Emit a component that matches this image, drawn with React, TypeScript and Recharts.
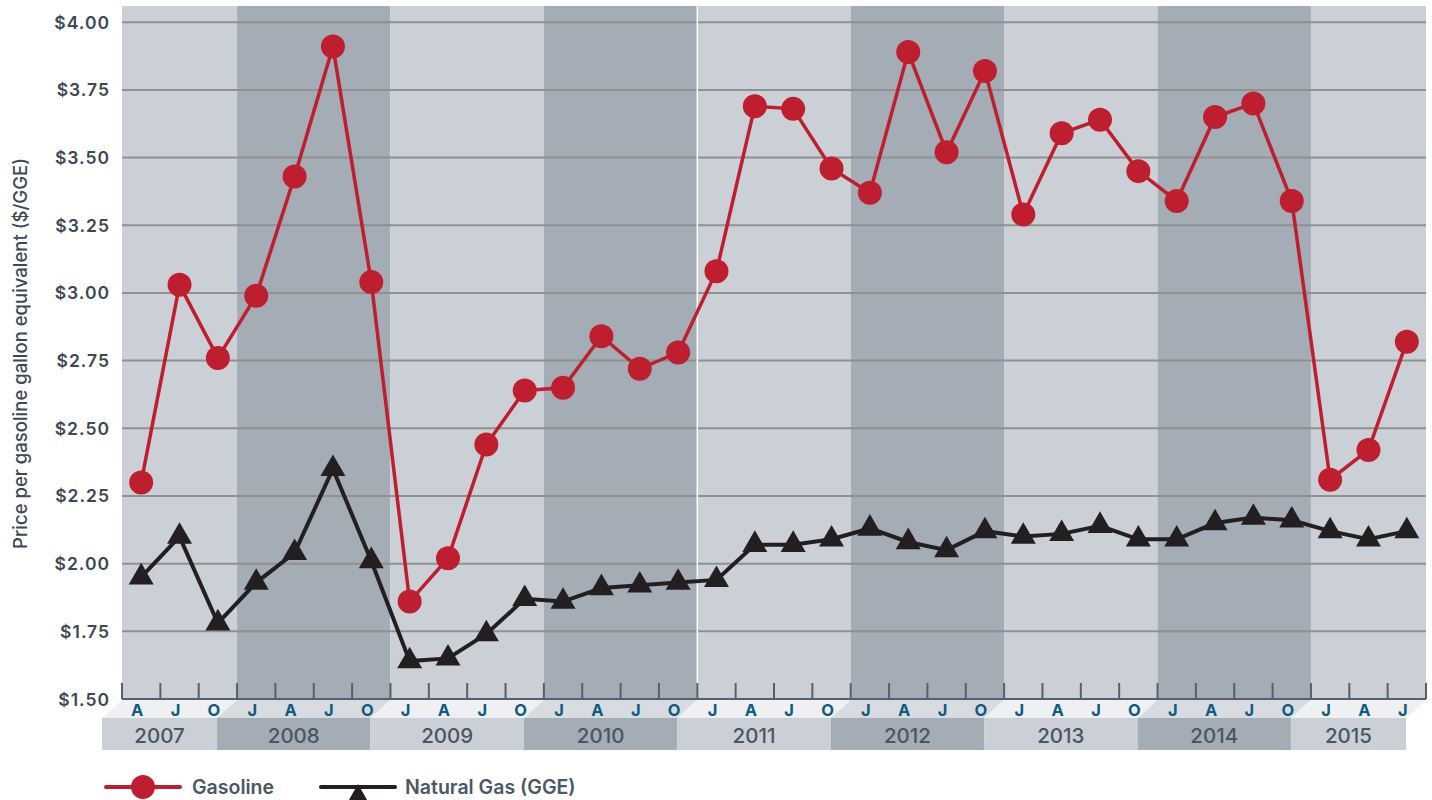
import React from 'react';
import { ComposedChart, Line, XAxis, YAxis, ReferenceArea, ReferenceLine, Legend } from 'recharts';

// ---------- data ----------
const yearLabels = ['2007', '2008', '2009', '2010', '2011', '2012', '2013', '2014', '2015'];
const monthsPerYear = [3, 4, 4, 4, 4, 4, 4, 4, 3];
const monthLabels = [
  'A', 'J', 'O',
  'J', 'A', 'J', 'O',
  'J', 'A', 'J', 'O',
  'J', 'A', 'J', 'O',
  'J', 'A', 'J', 'O',
  'J', 'A', 'J', 'O',
  'J', 'A', 'J', 'O',
  'J', 'A', 'J', 'O',
  'J', 'A', 'J',
];
const gasoline = [
  2.30, 3.03, 2.76,
  2.99, 3.43, 3.91, 3.04,
  1.86, 2.02, 2.44, 2.64,
  2.65, 2.84, 2.72, 2.78,
  3.08, 3.69, 3.68, 3.46,
  3.37, 3.89, 3.52, 3.82,
  3.29, 3.59, 3.64, 3.45,
  3.34, 3.65, 3.70, 3.34,
  2.31, 2.42, 2.82,
];
const naturalGas = [
  1.95, 2.10, 1.78,
  1.93, 2.04, 2.35, 2.01,
  1.64, 1.65, 1.74, 1.87,
  1.86, 1.91, 1.92, 1.93,
  1.94, 2.07, 2.07, 2.09,
  2.13, 2.08, 2.05, 2.12,
  2.10, 2.11, 2.14, 2.09,
  2.09, 2.15, 2.17, 2.16,
  2.12, 2.09, 2.12,
];
const priceTicks = [1.5, 1.75, 2.0, 2.25, 2.5, 2.75, 3.0, 3.25, 3.5, 3.75, 4.0];
const seriesNames = ['Gasoline', 'Natural Gas (GGE)'];
const axisTitle = 'Price per gasoline gallon equivalent ($/GGE)';

// ---------- style ----------
const FONT = 'Inter, "Open Sans", "Noto Sans", sans-serif';
const LIGHT_BAND = '#cbd0d7';
const DARK_BAND = '#a4acb5';
const LIGHT_FLOOR = '#eef0f2';
const DARK_FLOOR = '#d8dce0';
const GRID = '#8f9191';
const AXIS = '#56606b';
const TEXT = '#3d4955';
const MONTH_TEXT = '#0d5b80';
const RED = '#be1e2d';
const BLACK = '#231f20';

const CHART_W = 1432;
const CHART_H = 800;
const SLANT = 20;
const FLOOR_H = 19;
const YEAR_H = 32;
const TICK_LEN = 16;

// ---------- derived table ----------
const yearOfPoint: number[] = [];
const firstOfYear: boolean[] = [];
monthsPerYear.forEach((n, yi) => {
  for (let k = 0; k < n; k++) {
    yearOfPoint.push(yi);
    firstOfYear.push(k === 0);
  }
});
const data = monthLabels.map((m, i) => ({
  key: `${yearLabels[yearOfPoint[i]]}-${m}-${i}`,
  month: m,
  gasoline: gasoline[i],
  naturalGas: naturalGas[i],
}));
const yearRanges = yearLabels.map((y, yi) => {
  const pts = data.filter((_, i) => yearOfPoint[i] === yi);
  return { year: y, x1: pts[0].key, x2: pts[pts.length - 1].key, dark: yi % 2 === 1 };
});

function XTick(props: any) {
  const { x, y, payload, width } = props;
  const n = data.length;
  const i: number = props.index ?? payload.index;
  const bw = width && width > 0 ? width / n : payload && payload.offset ? payload.offset * 2 : 38.35;
  const xl = x - bw / 2;
  const yi = yearOfPoint[i];
  const dark = yi % 2 === 1;
  const els: React.ReactNode[] = [];
  if (firstOfYear[i]) {
    const cnt = monthsPerYear[yi];
    const xr = xl + cnt * bw;
    els.push(
      <polygon
        key="floor"
        points={`${xl},${y + 1} ${xr},${y + 1} ${xr - SLANT},${y + FLOOR_H} ${xl - SLANT},${y + FLOOR_H}`}
        fill={dark ? DARK_FLOOR : LIGHT_FLOOR}
      />
    );
    els.push(
      <rect key="yr" x={xl - SLANT} y={y + FLOOR_H} width={cnt * bw} height={YEAR_H} fill={dark ? DARK_BAND : LIGHT_BAND} />
    );
    els.push(
      <text
        key="yt"
        x={xl - SLANT + (cnt * bw) / 2}
        y={y + FLOOR_H + YEAR_H / 2 + 1}
        textAnchor="middle"
        dominantBaseline="central"
        fontFamily={FONT}
        fontSize={20.5}
        fontWeight={500}
        fill="#4a5662"
      >
        {yearLabels[yi]}
      </text>
    );
  }
  els.push(<line key="tk" x1={xl} x2={xl} y1={y - TICK_LEN} y2={y} stroke={AXIS} strokeWidth={2} />);
  if (i === n - 1) {
    els.push(<line key="tk2" x1={xl + bw} x2={xl + bw} y1={y - TICK_LEN} y2={y} stroke={AXIS} strokeWidth={2} />);
  }
  els.push(
    <text
      key="m"
      x={x - 4}
      y={y + 10.5}
      textAnchor="middle"
      dominantBaseline="central"
      fontFamily={FONT}
      fontSize={16.5}
      fontWeight={700}
      fill={MONTH_TEXT}
    >
      {data[i].month}
    </text>
  );
  return <g>{els}</g>;
}

function YTick(props: any) {
  const { x, y, payload } = props;
  return (
    <text
      x={x}
      y={y}
      textAnchor="end"
      dominantBaseline="central"
      fontFamily={FONT}
      fontSize={17.5}
      fontWeight={600}
      letterSpacing={1}
      fill={TEXT}
    >
      {`$${Number(payload.value).toFixed(2)}`}
    </text>
  );
}

function YTitle(props: any) {
  const vb = props.viewBox || { x: 0, y: 6, width: 122, height: 693 };
  const cx = 20;
  const cy = vb.y + vb.height / 2 + 1;
  return (
    <text
      x={cx}
      y={cy}
      transform={`rotate(-90, ${cx}, ${cy})`}
      textAnchor="middle"
      dominantBaseline="central"
      fontFamily={FONT}
      fontSize={18.5}
      fontWeight={500}
      fill={TEXT}
    >
      {axisTitle}
    </text>
  );
}

function CircleDot(props: any) {
  const { cx, cy } = props;
  if (cx == null || cy == null) return <g />;
  return <circle cx={cx} cy={cy} r={12} fill={RED} />;
}

function TriangleDot(props: any) {
  const { cx, cy } = props;
  if (cx == null || cy == null) return <g />;
  const s = 25;
  const h = 21.6;
  return (
    <polygon
      points={`${cx},${cy - (2 * h) / 3} ${cx + s / 2},${cy + h / 3} ${cx - s / 2},${cy + h / 3}`}
      fill={BLACK}
    />
  );
}

function LegendContent(props: any) {
  const payload = props.payload || [];
  const names = payload.length ? payload.map((p: any) => p.value) : seriesNames;
  const gasName = names.find((n: string) => n === seriesNames[0]) || seriesNames[0];
  const ngName = names.find((n: string) => n === seriesNames[1]) || seriesNames[1];
  return (
    <svg width={640} height={32} style={{ display: 'block', overflow: 'hidden' }}>
      <line x1={106} x2={180} y1={19} y2={19} stroke={RED} strokeWidth={4} strokeLinecap="round" />
      <circle cx={143} cy={19} r={12} fill={RED} />
      <text x={192} y={19} dominantBaseline="central" fontFamily={FONT} fontSize={19.5} fontWeight={600} fill="#4a5866">
        {gasName}
      </text>
      <line x1={321} x2={395} y1={19} y2={19} stroke={BLACK} strokeWidth={4} strokeLinecap="round" />
      <polygon points="358,16 345.5,38 370.5,38" fill={BLACK} />
      <text x={405} y={19} dominantBaseline="central" fontFamily={FONT} fontSize={19.5} fontWeight={600} fill="#4a5866">
        {ngName}
      </text>
    </svg>
  );
}

export default function App() {
  return (
    <div style={{ position: 'absolute', left: 0, top: 0, width: CHART_W, height: CHART_H, background: '#fff' }}>
      <ComposedChart
        width={CHART_W}
        height={CHART_H}
        data={data}
        margin={{ top: 6, right: 6, bottom: 0, left: 0 }}
      >
        <XAxis
          dataKey="key"
          type="category"
          scale="band"
          interval={0}
          height={101}
          tickSize={0}
          tickMargin={0}
          tickLine={false}
          axisLine={{ stroke: AXIS, strokeWidth: 2 }}
          tick={<XTick />}
        />
        <YAxis
          type="number"
          domain={[1.5, 4.06]}
          ticks={priceTicks}
          width={122}
          tickSize={0}
          tickMargin={12}
          tickLine={false}
          axisLine={false}
          tick={<YTick />}
          allowDataOverflow
          label={<YTitle />}
        />
        {yearRanges.map((r) => (
          <ReferenceArea
            key={r.year}
            x1={r.x1}
            x2={r.x2}
            fill={r.dark ? DARK_BAND : LIGHT_BAND}
            fillOpacity={1}
            stroke="none"
            ifOverflow="visible"
          />
        ))}
        {priceTicks.slice(1).map((t) => (
          <ReferenceLine key={t} y={t} stroke={GRID} strokeWidth={2} />
        ))}
        <ReferenceLine x={yearRanges[4].x1} position="start" stroke="#ffffff" strokeWidth={1.5} />
        <Line
          dataKey="naturalGas"
          name={seriesNames[1]}
          stroke={BLACK}
          strokeWidth={4}
          dot={<TriangleDot />}
          activeDot={false}
          isAnimationActive={false}
        />
        <Line
          dataKey="gasoline"
          name={seriesNames[0]}
          stroke={RED}
          strokeWidth={3.5}
          dot={<CircleDot />}
          activeDot={false}
          isAnimationActive={false}
        />
        <Legend
          verticalAlign="middle"
          align="center"
          layout="horizontal"
          wrapperStyle={{ left: 0, top: 768, width: 640, height: 32 }}
          content={<LegendContent />}
        />
      </ComposedChart>
    </div>
  );
}
